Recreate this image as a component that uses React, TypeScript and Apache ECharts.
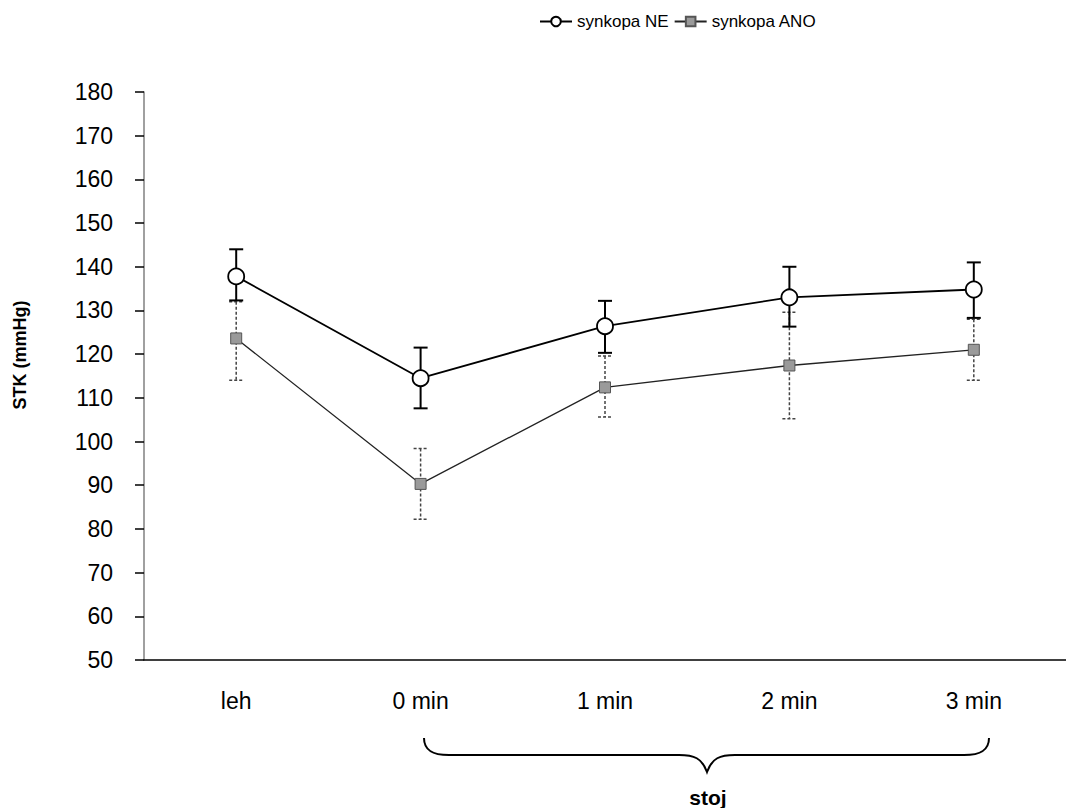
import React, { useEffect, useRef } from "react";
import * as echarts from "echarts";

const categories = ["leh", "0 min", "1 min", "2 min", "3 min"];
const neMean = [137.8, 114.5, 126.4, 133.0, 134.8];
const neLow = [132.3, 107.6, 120.3, 126.3, 128.3];
const neHigh = [144.0, 121.5, 132.2, 140.0, 141.0];
const anoMean = [123.6, 90.3, 112.4, 117.4, 121.0];
const anoLow = [114.0, 82.2, 105.6, 105.2, 114.0];
const anoHigh = [132.0, 98.4, 119.6, 129.6, 128.0];
const yTicks = { min: 50, max: 180, interval: 10 };
const seriesNames = ["synkopa NE", "synkopa ANO"];
const yTitle = "STK (mmHg)";
const braceLabel = "stoj";

const FONT = "Liberation Sans, Arial, sans-serif";

const braceD =
  "M0,0 C0,12 8,17 25,17 L255,17 C270,17 278,20 283,34 C288,20 296,17 311,17 L540,17 C557,17 565,12 565,0";
echarts.graphic.registerShape("brace", echarts.graphic.extendPath(braceD, {}) as any);

function errSeries(low: number[], high: number[], stroke: string, width: number, dash: number[] | null) {
  return {
    type: "custom",
    z: 1,
    silent: true,
    encode: { x: 0, y: [1, 2] },
    data: low.map((l, i) => [i, l, high[i]]),
    renderItem: (params: any, api: any) => {
      const i = api.value(0);
      const top = api.coord([i, api.value(2)]);
      const bot = api.coord([i, api.value(1)]);
      const hw = 7;
      const style: any = { stroke, lineWidth: width, fill: "none" };
      if (dash) style.lineDash = dash;
      return {
        type: "group",
        children: [
          { type: "line", shape: { x1: top[0], y1: top[1], x2: bot[0], y2: bot[1] }, style },
          { type: "line", shape: { x1: top[0] - hw, y1: top[1], x2: top[0] + hw, y2: top[1] }, style },
          { type: "line", shape: { x1: bot[0] - hw, y1: bot[1], x2: bot[0] + hw, y2: bot[1] }, style },
        ],
      };
    },
  };
}

export default function App() {
  const ref = useRef<HTMLDivElement>(null);
  useEffect(() => {
    if (!ref.current) return;
    const chart = echarts.init(ref.current, null, { renderer: "svg" });
    chart.setOption({
      animation: false,
      backgroundColor: "#ffffff",
      textStyle: { fontFamily: FONT },
      legend: {
        top: 8,
        left: 534,
        itemWidth: 32,
        itemHeight: 12,
        itemGap: 5,
        textStyle: { fontSize: 17, color: "#000", fontFamily: FONT },
        data: seriesNames,
      },
      grid: { left: 144, top: 92, bottom: 148, width: 937.5 },
      xAxis: {
        type: "category",
        data: categories,
        boundaryGap: true,
        axisLine: { lineStyle: { color: "#000", width: 1.5 } },
        axisTick: { show: false },
        axisLabel: { fontSize: 23, color: "#000", margin: 29, fontFamily: FONT },
      },
      yAxis: {
        type: "value",
        min: yTicks.min,
        max: yTicks.max,
        interval: yTicks.interval,
        axisLine: { show: true, lineStyle: { color: "#808080", width: 1.5 } },
        axisTick: { show: true, inside: false, length: 9, lineStyle: { color: "#000", width: 1.5 } },
        splitLine: { show: false },
        axisLabel: { fontSize: 23, color: "#000", margin: 31, fontFamily: FONT },
      },
      graphic: [
        {
          type: "text",
          x: 20,
          y: 355,
          rotation: Math.PI / 2,
          style: {
            text: yTitle,
            fontSize: 18,
            fontWeight: "bold",
            fill: "#000",
            align: "center",
            verticalAlign: "middle",
            fontFamily: FONT,
          },
        },
        {
          type: "brace",
          x: 424,
          y: 738,
          style: { stroke: "#000", lineWidth: 2, fill: "none" },
        },
        {
          type: "text",
          x: 708,
          y: 797,
          style: {
            text: braceLabel,
            fontSize: 21,
            fontWeight: "bold",
            fill: "#000",
            align: "center",
            verticalAlign: "middle",
            fontFamily: FONT,
          },
        },
      ],
      series: [
        errSeries(anoLow, anoHigh, "#444", 1.5, [3, 2]),
        errSeries(neLow, neHigh, "#000", 2, null),
        {
          name: seriesNames[1],
          type: "line",
          z: 2,
          data: anoMean,
          symbol: "rect",
          symbolSize: 11,
          lineStyle: { color: "#222", width: 1.3 },
          itemStyle: { color: "#9a9a9a", borderColor: "#555", borderWidth: 1 },
        },
        {
          name: seriesNames[0],
          type: "line",
          z: 3,
          data: neMean,
          symbol: "circle",
          symbolSize: 16,
          showAllSymbol: true,
          lineStyle: { color: "#000", width: 1.8 },
          itemStyle: { color: "#fff", borderColor: "#000", borderWidth: 1.8 },
        },
      ],
    });
    return () => chart.dispose();
  }, []);
  return (
    <div
      ref={ref}
      style={{ position: "absolute", left: 0, top: 0, width: 1066, height: 808 }}
    />
  );
}
